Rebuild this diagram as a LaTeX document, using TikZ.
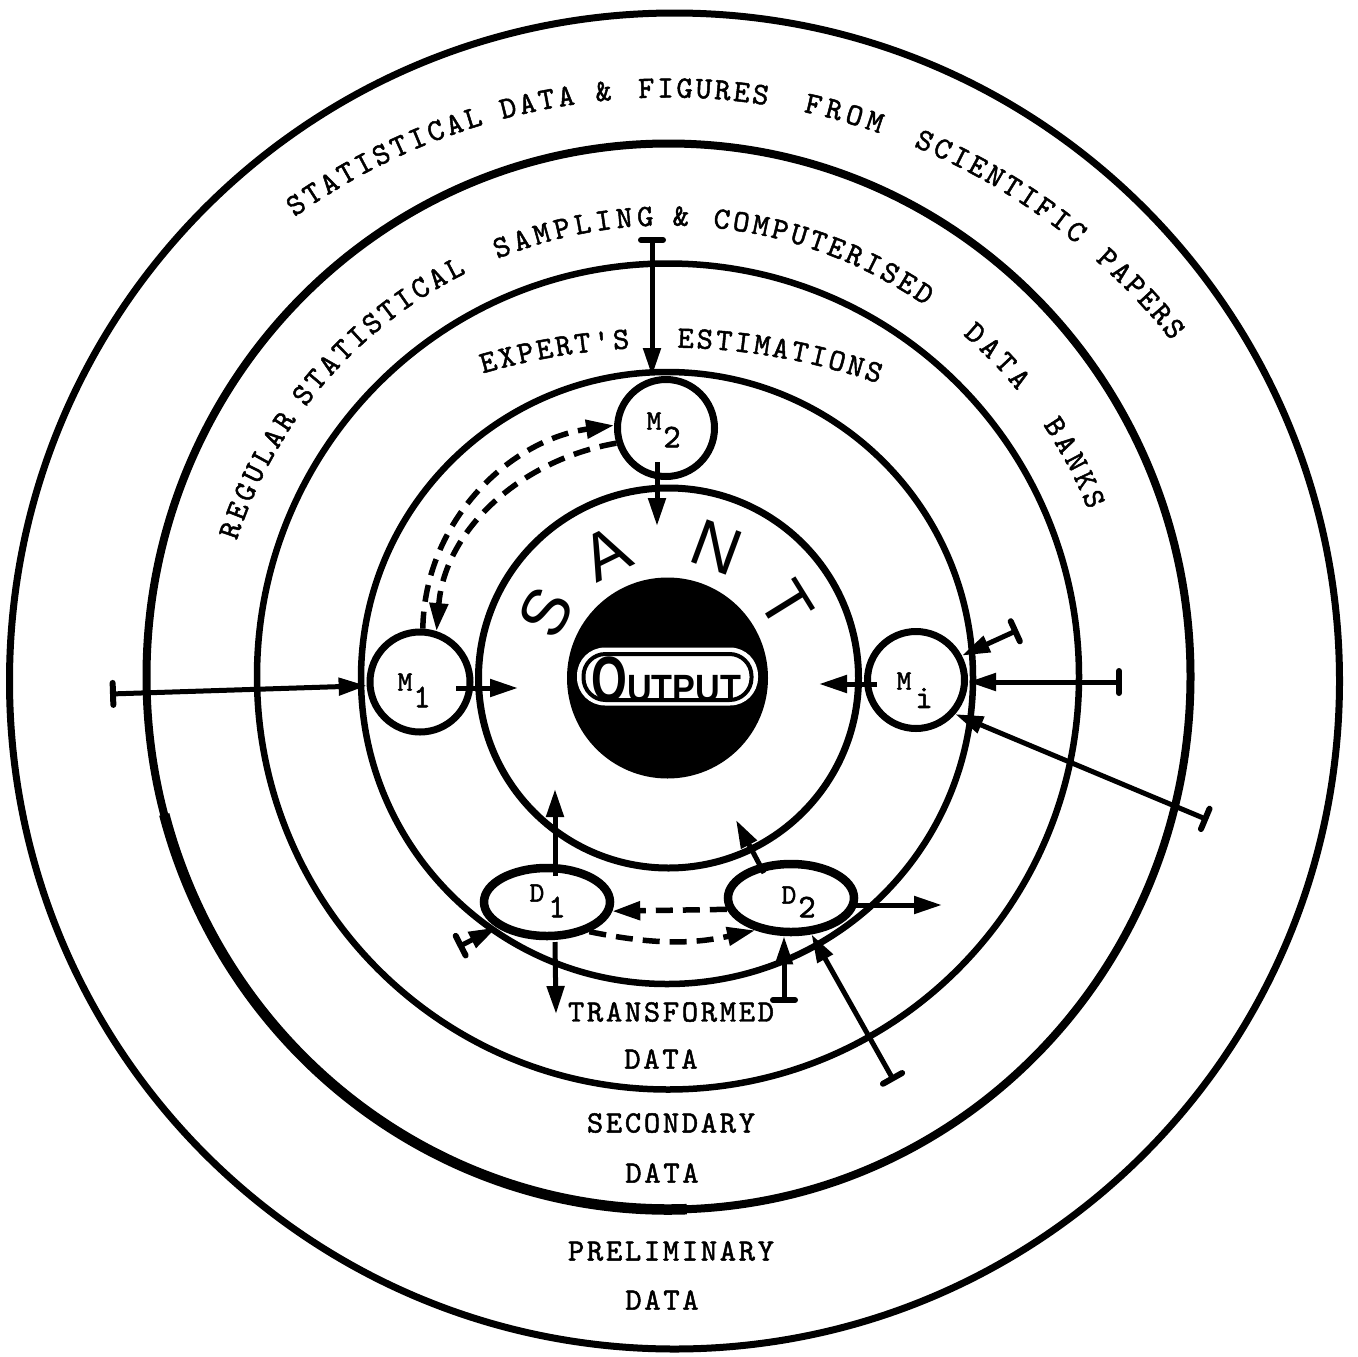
\documentclass[tikz,border=0pt]{standalone}
\usepackage{fontspec}
\usepackage{graphicx}
\usetikzlibrary{arrows.meta,calc,shapes.geometric}
\newfontfamily\tw{lmmono10-regular.otf}[FakeBold=1.6]
\newfontfamily\twls{lmmono10-regular.otf}[LetterSpace=8.7,FakeBold=1.6]
\newfontfamily\helv{Liberation Sans}
\newcommand\arcword[6]{%
  \foreach \ch [count=\k from 0] in {#6}{%
    \pgfmathsetmacro\ang{#3-\k*#4}%
    \node[arctxt, rotate=\ang-90] (#5\k) at ($(#1)+(-\ang:#2)$) {\ch};%
  }%
}
\begin{document}
\begin{tikzpicture}[x=1pt,y=-1pt,
  arctxt/.style={font=\tw\fontsize{31}{31}\selectfont, inner sep=0pt},
  lab/.style={font=\twls\fontsize{31}{31}\selectfont, inner sep=0pt},
  mlab/.style={font=\tw\fontsize{28}{28}\selectfont, inner sep=0pt},
  msub/.style={font=\tw\fontsize{33}{33}\selectfont, inner sep=0pt},
  santl/.style={font=\helv\fontsize{66}{66}\selectfont, inner sep=0pt},
  mnode/.style={circle, draw, line width=7pt, fill=white, minimum size=#1, inner sep=0pt},
  dnode/.style={ellipse, draw, line width=8.5pt, fill=white, minimum width=126pt, minimum height=68pt, inner sep=0pt},
  arr/.style={line width=5pt, -{Triangle[length=28pt,width=17pt]}},
  barr/.style={line width=5pt, {Bar[width=22pt,line width=6pt,round]}-{Triangle[length=28pt,width=17pt]}},
  darr/.style={line width=5.5pt, dash pattern=on 17pt off 10pt, -{Triangle[length=28pt,width=18pt]}}
]
\fill[white] (0,0) rectangle (1357,1357);
\useasboundingbox (0,0) rectangle (1357,1357);

\coordinate (C) at (668,678);
\coordinate (O1) at (668,740);
\coordinate (O3) at (665,1000);

% rings
\draw[line width=7pt] (674.5,681) ellipse [x radius=665pt, y radius=668pt];
\coordinate (c2) at (668.5,676.5);
\draw[line width=8pt] (c2) ellipse [x radius=522pt, y radius=533pt];
\draw[line width=10.5pt] ($(c2)+(195:522pt and 533pt)$) arc [start angle=195, end angle=272, x radius=522pt, y radius=533pt];
\draw[line width=6.5pt] (668,676.5) ellipse [x radius=411pt, y radius=413pt];
\draw[line width=6.5pt] (667,678) circle [radius=306pt];
\draw[line width=7pt] (668.5,678) circle [radius=190pt];

% output disc
\node[circle, fill=black, minimum size=201pt, inner sep=0pt] (disc) at (667.5,678) {};
\node[rectangle, rounded corners=28pt, fill=white, minimum width=181pt, minimum height=58pt, inner sep=0pt] (obox) at (667.5,676.5) {};
\node[rectangle, rounded corners=22pt, draw, line width=4pt, fill=white, minimum width=168pt, minimum height=46pt, inner sep=0pt] (obox2) at (667.5,677) {};
\node[font=\helv\bfseries, anchor=base west, inner sep=0pt] (otext) at (591,701)
  {\fontsize{64}{64}\selectfont\scalebox{0.72}[1]{O}\fontsize{38}{38}\selectfont\scalebox{0.9}[1]{UTPUT}};

% SANT
\foreach \ch/\ang [count=\k] in {S/151.8, A/116.2, N/69.7, T/31.8}
  \node[santl, rotate=\ang-90] (sant\k) at ($(C)+(-\ang:139)$) {\ch};

% curved texts
\arcword{O1}{652}{124.8}{1.74}{ta}{S,T,A,T,I,S,T,I,C,A,L}
\arcword{O1}{652}{104.2}{1.73}{tb}{D,A,T,A}
\arcword{O1}{652}{95.7}{0}{tc}{\&}
\arcword{O1}{652}{91.9}{1.68}{td}{F,I,G,U,R,E,S}
\arcword{O1}{652}{77.1}{1.87}{te}{F,R,O,M}
\arcword{O1}{652}{66.8}{1.73}{tf}{S,C,I,E,N,T,I,F,I,C}
\arcword{O1}{652}{47.6}{1.7}{tg}{P,A,P,E,R,S}

\arcword{C}{462}{161.3}{2.52}{sa}{R,E,G,U,L,A,R}
\arcword{C}{462}{142.2}{2.47}{sb}{S,T,A,T,I,S,T,I,C,A,L}
\arcword{C}{462}{111.1}{2.61}{sc}{S,A,M,P,L,I,N,G}
\arcword{C}{462}{88.4}{0}{sd}{\&}
\arcword{C}{462}{83.3}{2.45}{se}{C,O,M,P,U,T,E,R,I,S,E,D}
\arcword{C}{462}{48.3}{2.63}{sf}{D,A,T,A}
\arcword{C}{462}{33.0}{2.55}{sg}{B,A,N,K,S}

\arcword{O3}{662}{105.5}{1.67}{ea}{E,X,P,E,R,T,\textquotesingle,S}
\arcword{O3}{662}{88.2}{1.66}{eb}{E,S,T,I,M,A,T,I,O,N,S}

% bottom labels
\node[lab] (l1) at (671,1012) {TRANSFORMED};
\node[lab] (l2) at (661,1059) {DATA};
\node[lab] (l3) at (671,1123) {SECONDARY};
\node[lab] (l4) at (662,1173) {DATA};
\node[lab] (l5) at (671,1251) {PRELIMINARY};
\node[lab] (l6) at (662,1300) {DATA};

% nodes
\node[mnode=100pt] (M1) at (420,682) {};
\node[mnode=97pt] (M2) at (666,428) {};
\node[mnode=97pt] (Mi) at (916,680) {};
\node[dnode] (D1) at (547,902) {};
\node[dnode] (D2) at (791,898) {};

\node[mlab] (M1a) at (405,682) {M};
\node[msub] (M1b) at (422,697) {1};
\node[mlab] (M2a) at (654,421) {M};
\node[msub] (M2b) at (672,437) {2};
\node[mlab] (Mia) at (904,681) {M};
\node[msub] (Mib) at (924,698) {i};
\node[mlab] (D1a) at (537,893) {D};
\node[msub] (D1b) at (557,907) {1};
\node[mlab] (D2a) at (789,895) {D};
\node[msub] (D2b) at (807,907) {2};

% arrows
\coordinate (tM2) at (652,237);
\draw[barr] (tM2) -- (tM2 |- M2.north);
\coordinate (m2a) at (657,462); \coordinate (m2b) at (657,526);
\draw[arr] (m2a) -- (m2b);

\coordinate (tM1) at (110,694);
\draw[barr] (tM1) -- (M1.184);
\coordinate (m1a) at (456,688); \coordinate (m1b) at (518,688);
\draw[arr] (m1a) -- (m1b);

\coordinate (mia) at (877,684); \coordinate (mib) at (819,684);
\draw[arr] (mia) -- (mib);
\coordinate (tMi1) at (1018,630);
\coordinate (tMi2) at (1122,682);
\coordinate (tMi3) at (1208,820);
\draw[barr] (tMi1) -- (Mi.28);
\draw[barr] (tMi2) -- (tMi2 -| Mi.east);
\draw[barr] (tMi3) -- (Mi.-41);

\coordinate (d1u0) at (555,876); \coordinate (d1u1) at (555,789);
\draw[arr] (d1u0) -- (d1u1);
\coordinate (d1d0) at (555,942); \coordinate (d1d1) at (556,1014);
\draw[arr] (d1d0) -- (d1d1);
\coordinate (tD1) at (458,947);
\draw[barr] (tD1) -- (D1);

\coordinate (d2u0) at (764,873); \coordinate (d2u1) at (736,820);
\draw[arr] (d2u0) -- (d2u1);
\coordinate (d2r0) at (856,905); \coordinate (d2r1) at (942,905);
\draw[arr] (d2r0) -- (d2r1);
\coordinate (tD2a) at (784,1003);
\draw[barr] (tD2a) -- (tD2a |- D2.south);
\coordinate (tD2b) at (894,1081);
\draw[barr] (tD2b) -- (D2);

% dashed
\draw[darr] (M1.87) .. controls (425,520) and (510,440) .. (M2.177);
\draw[darr] (M2.197) .. controls (520,460) and (445,530) .. (M1.72);
\draw[darr] (D2.190) -- (D1.-8);
\draw[darr] (D1.-35) to[bend right=12] (D2.-138);
\end{tikzpicture}
\end{document}
